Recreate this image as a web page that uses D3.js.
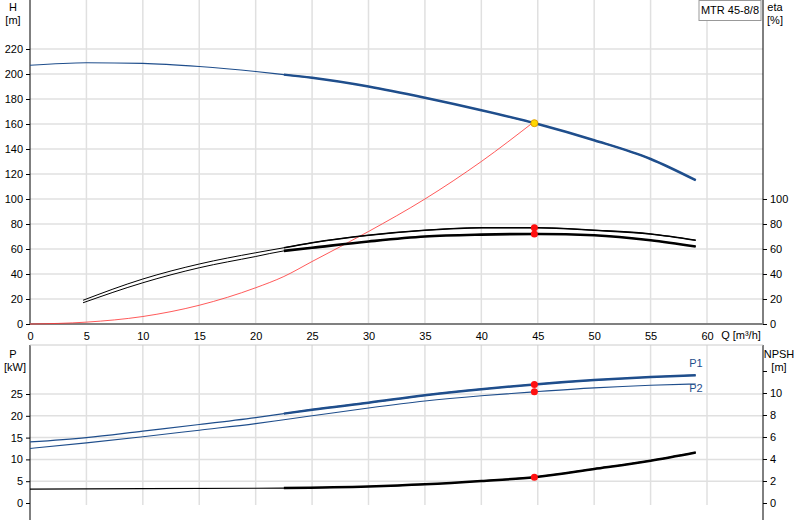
<!DOCTYPE html><html><head><script src="https://cdn.jsdelivr.net/npm/d3@7"></script>
<style>body{margin:0;background:#fff}text{font-family:Arial,"Liberation Sans",sans-serif;font-size:11px;fill:#000}</style></head><body>
<svg id="c" width="800" height="520"></svg>
<script>
const qH=[0,5,10,15,20,22.5,25,30,35,40,45,50,55,59];
const H=[207,209,208.5,206,202,199.5,197,190,181,171,160,147,132,115];
const qE=[4.7,10,15,20,22.5,25,30,35,40,45,50,55,59];
const eta1=[19,36,48,57,61,65,71,75,77,77,75,72,67];
const eta2=[17,33,45,54,58.5,61,66,70,71.5,72,71,67,62];
const qS=[0,5,10,15,20,22.5,25,30,35,40,44.7];
const sys=[0,1.5,6,15,29,38,50,74,100,130,162];
const qP=[0,5,10,15,20,22.5,25,30,35,40,44.7,50,55,59];
const P1=[14,15,16.5,18,19.6,20.5,21.4,23,24.7,26.1,27.2,28.2,28.9,29.3];
const P2=[12.5,13.8,15.2,16.7,18.2,19.1,20,21.8,23.4,24.6,25.5,26.4,27,27.3];
const qN=[0,10,20,22.5,30,35,40,44.7,50,55,59];
const NPSH=[1.27,1.3,1.34,1.36,1.5,1.7,2.0,2.35,3.1,3.85,4.6];
const opQ=44.7;
const svg=d3.select("#c");
const x=d3.scaleLinear().domain([0,60]).range([30,707]);
const X0=30,X1=763;
const yH=d3.scaleLinear().domain([0,220]).range([324,49]);
const yP=d3.scaleLinear().domain([0,25]).range([503,394]);
const yN=d3.scaleLinear().domain([0,10]).range([503,393]);
const grid="#e0e0e0";
function grids(y0,y1,ys){
 d3.range(5,65,5).forEach(v=>svg.append("line").attr("x1",x(v)).attr("x2",x(v)).attr("y1",y0).attr("y2",y1).attr("stroke",grid).attr("stroke-width",1.5));
 ys.forEach(yy=>svg.append("line").attr("x1",X0).attr("x2",X1).attr("y1",yy).attr("y2",yy).attr("stroke",grid).attr("stroke-width",1.5));
}
grids(0,324,d3.range(20,240,20).map(yH));
grids(345,505,d3.range(5,30,5).map(yP));
svg.append("g").attr("transform","translate(30,0)").call(d3.axisLeft(yH).tickValues(d3.range(0,240,20)).tickSize(4)).call(g=>g.select(".domain").attr("d","M-0,0V324"));
svg.append("g").attr("transform","translate(763,0)").call(d3.axisRight(yH).tickValues(d3.range(0,120,20)).tickSize(4)).call(g=>g.select(".domain").attr("d","M0,0V324"));
svg.append("line").attr("x1",X0).attr("x2",X1).attr("y1",324).attr("y2",324).attr("stroke","#808080").attr("stroke-width",2);
svg.append("g").attr("transform","translate(0,324)").call(d3.axisBottom(x).tickValues(d3.range(0,65,5)).tickSize(0).tickPadding(8)).call(g=>g.select(".domain").remove());
svg.append("g").attr("transform","translate(30,0)").call(d3.axisLeft(yP).tickValues(d3.range(0,30,5)).tickSize(4)).call(g=>g.select(".domain").attr("d","M0,345V520"));
svg.append("g").attr("transform","translate(763,0)").call(d3.axisRight(yN).tickValues([0,2,4,6,8,10,12]).tickFormat(d=>d>10?"":d).tickSize(4)).call(g=>g.select(".domain").attr("d","M0,345V520"));
svg.append("line").attr("x1",X0).attr("x2",X1).attr("y1",345).attr("y2",345).attr("stroke","#ccc");
svg.selectAll(".tick text").style("font-size","11px");
svg.selectAll(".tick line").attr("stroke","#000");
const T=(t,xx,yy,a)=>svg.append("text").attr("x",xx).attr("y",yy).attr("text-anchor",a||"middle").text(t);
T("H",13,11);T("[m]",13,24);T("eta",775,11);T("[%]",775,24);
T("Q [m³/h]",741,339);T("P",13,358);T("[kW]",15,371);T("NPSH",779,358);T("[m]",779,371);
svg.append("rect").attr("x",699).attr("y",0.5).attr("width",62).attr("height",20).attr("fill","#fff").attr("stroke","#999");
T("MTR 45-8/8",730,14);
T("P1",696,367).style("fill","#1f4e8c");T("P2",696,392).style("fill","#1f4e8c");
function curve(qs,vs,ys,col,w,split,w2){
 const ln=d3.line().x((d,i)=>x(qs[i])).y(d=>ys(d)).curve(d3.curveMonotoneX);
 svg.append("path").attr("d",ln(vs)).attr("fill","none").attr("stroke",col).attr("stroke-width",w);
 if(split!=null){const i0=qs.indexOf(split);
  const ln2=d3.line().x((d,i)=>x(qs[i+i0])).y(d=>ys(d)).curve(d3.curveMonotoneX);
  svg.append("path").attr("d",ln2(vs.slice(i0))).attr("fill","none").attr("stroke",col).attr("stroke-width",w2||w+1.3);}
}
curve(qS,sys,yH,"#ff3030",0.8,null);
curve(qH,H,yH,"#1f4e8c",1.2,22.5);
curve(qE,eta1,yH,"#000",1,22.5,1.6);
curve(qE,eta2,yH,"#000",1,22.5,2.6);
curve(qP,P1,yP,"#1f4e8c",1.2,22.5);
curve(qP,P2,yP,"#1f4e8c",1.1,null);
curve(qN,NPSH,yN,"#000",1.2,22.5);
const interp=(qs,vs,q)=>d3.scaleLinear().domain(qs).range(vs)(q);
const dot=(cx,cy,c)=>svg.append("circle").attr("cx",cx).attr("cy",cy).attr("r",3.5).attr("fill",c).attr("stroke",c=="#ffd700"?"#e0a000":"none");
dot(x(opQ),yH(interp(qE,eta1,opQ)),"#ff1010");
dot(x(opQ),yH(interp(qE,eta2,opQ)),"#ff1010");
dot(x(opQ),yP(interp(qP,P1,opQ)),"#ff1010");
dot(x(opQ),yP(interp(qP,P2,opQ)),"#ff1010");
dot(x(opQ),yN(interp(qN,NPSH,opQ)),"#ff1010");
dot(x(opQ),yH(interp(qH,H,opQ)),"#ffd700");
</script></body></html>
